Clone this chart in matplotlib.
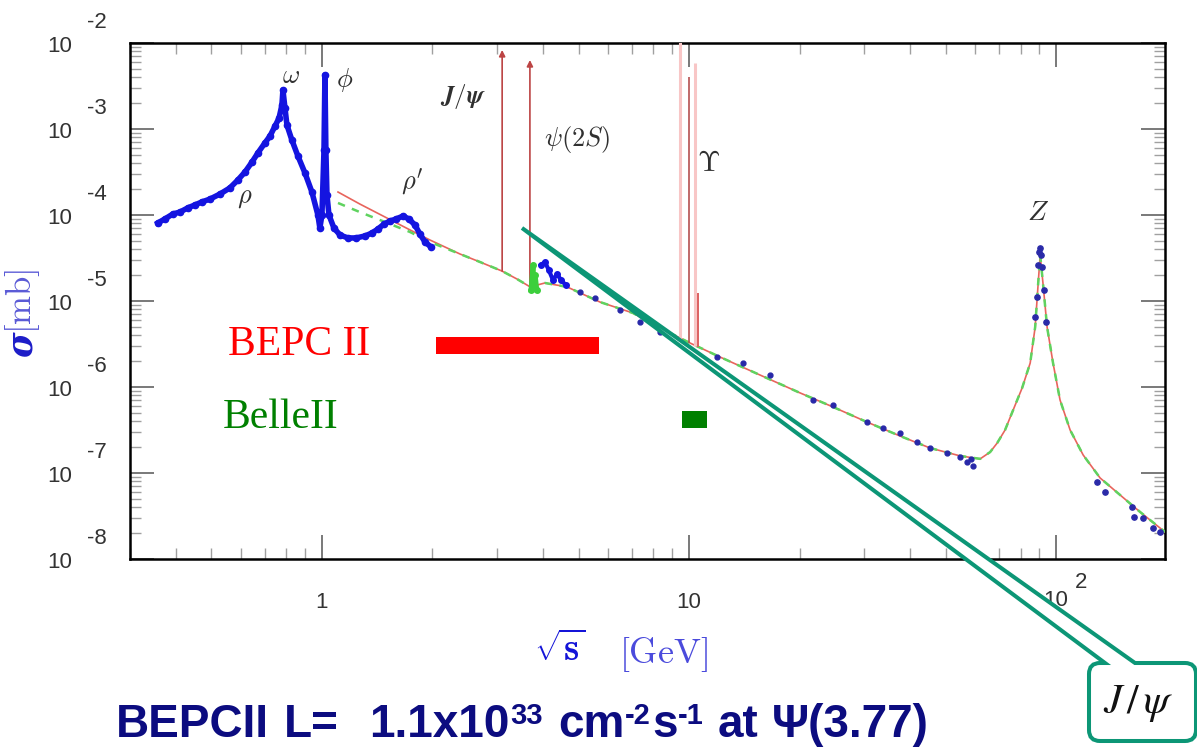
import matplotlib
matplotlib.use("Agg")
import matplotlib.pyplot as plt
import matplotlib.transforms as mtransforms
from matplotlib import font_manager as fm
from matplotlib.path import Path
from matplotlib.patches import PathPatch
from matplotlib.ticker import LogLocator, NullFormatter

W, H = 1197, 747

# measured R-region data, sqrt(s) in GeV, sigma in mb (rho / omega / phi / rho')
low_E = [0.357, 0.373, 0.393, 0.410, 0.431, 0.451, 0.471, 0.495, 0.527, 0.561,
         0.590, 0.617, 0.645, 0.669, 0.699, 0.722, 0.745, 0.764, 0.778, 0.783,
         0.793, 0.803, 0.828, 0.860, 0.899, 0.939, 0.975, 0.987, 1.000, 1.013,
         1.019, 1.025, 1.032, 1.045, 1.078, 1.12, 1.177, 1.238, 1.31, 1.368,
         1.421, 1.476, 1.532, 1.591, 1.663, 1.726, 1.792, 1.849, 1.909, 1.982]
low_sig = [8.07e-5, 8.98e-5, 1.03e-4, 1.08e-4, 1.21e-4, 1.31e-4, 1.42e-4, 1.53e-4, 1.75e-4, 2.06e-4,
           2.55e-4, 3.16e-4, 4.13e-4, 5.26e-4, 6.87e-4, 8.29e-4, 1.08e-3, 1.34e-3, 1.90e-3, 2.84e-3,
           1.75e-3, 1.11e-3, 7.45e-4, 4.85e-4, 3.08e-4, 1.85e-4, 1.0e-4, 7.06e-5, 1.0e-4, 5.70e-4,
           4.25e-3, 5.70e-4, 1.71e-4, 1.0e-4, 7.06e-5, 5.85e-5, 5.41e-5, 5.41e-5, 5.70e-5, 6.18e-5,
           6.87e-5, 7.85e-5, 8.51e-5, 8.98e-5, 9.73e-5, 8.98e-5, 7.65e-5, 6.01e-5, 4.85e-5, 4.25e-5]

# open charm region
charm_E = [3.95, 4.05, 4.15, 4.26, 4.37, 4.48, 4.62]
charm_sig = [2.62e-5, 2.84e-5, 2.29e-5, 1.75e-5, 2.06e-5, 1.75e-5, 1.53e-5]
psi3770_E = [3.71, 3.76, 3.78, 3.81, 3.85]
psi3770_sig = [1.34e-5, 2.62e-5, 1.53e-5, 2.00e-5, 1.34e-5]

# continuum points and Z line shape
cont_E = [5.05, 5.54, 6.49, 7.35, 8.34, 11.9, 14.0, 16.6, 21.8, 24.7,
          30.5, 33.8, 37.6, 41.8, 45.4, 50.5, 54.8, 57.2, 58.7, 59.4]
cont_sig = [1.27e-5, 1.08e-5, 7.85e-6, 5.70e-6, 4.37e-6, 2.23e-6, 1.90e-6, 1.38e-6, 7.06e-7, 6.18e-7,
            3.92e-7, 3.34e-7, 2.92e-7, 2.29e-7, 1.95e-7, 1.71e-7, 1.54e-7, 1.34e-7, 1.46e-7, 1.21e-7]
z_E = [87.7, 88.8, 89.3, 89.9, 90.5, 91.0, 91.6, 92.8, 93.9,
       129, 136, 161, 163, 172, 184, 192]
z_sig = [6.52e-6, 1.11e-5, 2.62e-5, 3.72e-5, 4.13e-5, 3.43e-5, 2.48e-5, 1.34e-5, 5.70e-6,
         7.85e-8, 6.01e-8, 4.03e-8, 3.08e-8, 3.0e-8, 2.29e-8, 2.06e-8]

# fit curves
fit_E = [1.106, 1.269, 1.485, 1.738, 1.969, 2.377, 2.696, 3.094, 3.40, 3.69,
         4.05, 4.65, 5.72, 7.04, 8.34, 10.06, 12.15, 15.6, 20.1, 24.7,
         30.5, 37.6, 45.4, 54.8, 62.1, 66.1, 69.1, 72.6, 76.4, 80.8,
         85.0, 87.7, 89.3, 90.5, 92.2, 94.5, 98.1, 102.5, 109.2, 118.5,
         131.8, 149.4, 169.4, 198]
fit_sig = [1.85e-4, 1.34e-4, 9.48e-5, 6.70e-5, 5.12e-5, 3.52e-5, 2.84e-5, 2.23e-5, 1.80e-5, 1.46e-5,
           1.62e-5, 1.46e-5, 9.73e-6, 7.24e-6, 4.85e-6, 3.25e-6, 2.23e-6, 1.38e-6, 8.51e-7, 5.85e-7,
           3.92e-7, 2.69e-7, 1.95e-7, 1.58e-7, 1.46e-7, 1.75e-7, 2.23e-7, 3.16e-7, 5.41e-7, 9.73e-7,
           1.90e-6, 4.99e-6, 1.53e-5, 3.43e-5, 1.53e-5, 4.99e-6, 1.90e-6, 7.06e-7, 3.16e-7, 1.62e-7,
           8.75e-8, 5.55e-8, 3.52e-8, 2.06e-8]
pqcd_low_sig = [1.38e-4, 1.08e-4, 8.29e-5, 6.34e-5, 4.85e-5]
pqcd_E = fit_E
pqcd_sig = pqcd_low_sig + fit_sig[5:]

# narrow resonances drawn as spikes
res_E = [3.097, 3.686]
res_base = [2.23e-5, 1.46e-5]
res_top = [8.30e-3, 6.34e-3]
ups_E = [9.46, 10.02, 10.355, 10.58]
ups_base = [3.52e-6, 3.25e-6, 3.0e-6, 2.92e-6]
ups_top = [1.2e-2, 4.03e-3, 5.85e-3, 1.24e-5]

# collider energy coverage
bepc_E = [2.05, 5.70]
belle_E = [9.57, 11.2]

y_powers = [-8, -7, -6, -5, -4, -3, -2]
x_ticks = [1, 10]

# luminosity line as chained runs: (text, font size, raise px, gap before px)
lumi_runs = [("BEPCII", 33, 0, 0), ("L=", 33, 0, 15), ("1.1x10", 33, 0, 30), ("33", 21, 13, 1),
             ("cm", 33, 0, 15), ("-2", 21, 13, 1), ("s", 33, 0, 1), ("-1", 21, 13, 1),
             ("at", 33, 0, 14), ("Ψ(3.77)", 33, 0, 13)]


def find_family(*names):
    for name in names:
        try:
            fm.findfont(fm.FontProperties(family=name), fallback_to_default=False)
            return name
        except ValueError:
            continue
    return "DejaVu Sans"


sans = find_family("Liberation Sans", "DejaVu Sans")
serif = find_family("Liberation Serif", "DejaVu Serif")


def fpx(x, y):
    return x / W, 1 - y / H


fig = plt.figure(figsize=(W / 100, H / 100), dpi=100, facecolor="white")
ax = fig.add_axes([130 / W, 1 - 559 / H, 1035 / W, 516 / H])
ax.set_xscale("log")
ax.set_yscale("log")
ax.set_xlim(0.30, 198)
ax.set_ylim(1e-8, 1e-2)

for axis in (ax.xaxis, ax.yaxis):
    axis.set_major_locator(LogLocator(base=10, numticks=20))
    axis.set_minor_locator(LogLocator(base=10, subs=range(2, 10), numticks=100))
    axis.set_major_formatter(NullFormatter())
    axis.set_minor_formatter(NullFormatter())
ax.tick_params(which="both", direction="in", top=True, right=True)
ax.tick_params(which="major", length=17, width=1.1, color="#555555")
ax.tick_params(which="minor", length=8, width=1.0, color="#a0a0a0")
for s in ax.spines.values():
    s.set_linewidth(1.8)

# curves
ax.plot(fit_E, fit_sig, color="#e8645c", lw=1.2, zorder=3)
ax.plot(pqcd_E, pqcd_sig, color="#5fd35f", lw=1.8, ls=(0, (3, 3)), zorder=3)

# resonance spikes
for E, lo, hi in zip(res_E, res_base, res_top):
    ax.annotate("", xy=(E, hi), xytext=(E, lo),
                arrowprops=dict(arrowstyle="-|>", color="#bc4444", lw=1.2,
                                mutation_scale=9, shrinkA=0, shrinkB=0), zorder=3)
ax.vlines(ups_E, ups_base, ups_top,
          colors=["#f8c6c6", "#b55050", "#f8c6c6", "#dc6060"],
          linewidths=[2.2, 1.2, 2.2, 1.4], zorder=3)

# data
ax.plot(low_E, low_sig, color="#1414e0", lw=4, marker="o", ms=4.5, zorder=4)
ax.plot(charm_E, charm_sig, color="#1414e0", lw=3, marker="o", ms=4, zorder=4)
ax.plot(psi3770_E, psi3770_sig, color="#3ccf3c", lw=3.5, marker="o", ms=4, zorder=4)
ax.plot(cont_E, cont_sig, ls="none", marker="o", ms=3.5, color="#2828a8", zorder=4)
ax.plot(z_E, z_sig, ls="none", marker="o", ms=3.8, color="#2a2aa8", zorder=4)

# energy coverage bars
ax.fill_between(bepc_E, 2.42e-6, 3.81e-6, color="#ff0000", lw=0, zorder=5)
ax.fill_between(belle_E, 3.33e-7, 5.26e-7, color="#008000", lw=0, zorder=5)

# tick labels in ROOT style
ytrans = mtransforms.blended_transform_factory(fig.transFigure, ax.transData)
for p in y_powers:
    ax.text(60 / W, 10.0 ** p, "10", transform=mtransforms.offset_copy(ytrans, fig=fig, y=-4, units="dots"),
            ha="center", va="center", fontsize=16, family=sans, color="#333333")
    ax.text(87 / W, 10.0 ** p, str(p), transform=mtransforms.offset_copy(ytrans, fig=fig, y=20, units="dots"),
            ha="left", va="center", fontsize=16, family=sans, color="#333333")
xtrans = mtransforms.blended_transform_factory(ax.transData, fig.transFigure)
for t in x_ticks:
    ax.text(t, 1 - 603 / H, str(t), transform=xtrans, ha="center", va="center",
            fontsize=16, family=sans, color="#333333")
ax.text(100, 1 - 601 / H, "10", transform=xtrans, ha="center", va="center",
        fontsize=16, family=sans, color="#333333")
ax.text(100, 1 - 601 / H, "2", transform=mtransforms.offset_copy(xtrans, fig=fig, x=19, y=18, units="dots"),
        ha="left", va="center", fontsize=16, family=sans, color="#333333")

# peak names
lab = dict(math_fontfamily="cm", color="#303030", ha="center", va="center")
ax.text(0.823, 4.13e-3, r"$\omega$", fontsize=19, **lab)
ax.text(1.155, 3.7e-3, r"$\phi$", fontsize=19, **lab)
ax.text(0.617, 1.62e-4, r"$\rho$", fontsize=19, **lab)
ax.text(1.76, 2.42e-4, r"$\rho'$", fontsize=19, **lab)
ax.text(2.42, 2.36e-3, r"$\boldsymbol{J/\psi}$", fontsize=18, **lab)
ax.text(4.95, 7.45e-4, r"$\psi(2S)$", fontsize=19, **lab)
ax.text(11.27, 4.03e-4, r"$\mathbf{\Upsilon}$", fontsize=21, **lab)
ax.text(89.3, 1.08e-4, r"$Z$", fontsize=20, **lab)

fig.text(*fpx(228, 345), "BEPC II", ha="left", va="center", fontsize=30, family=serif, color="#ff0000")
fig.text(*fpx(223, 418), "BelleII", ha="left", va="center", fontsize=30, family=serif, color="#008000")

# axis titles
fig.text(*fpx(22, 344), "σ", rotation=90, ha="center", va="center", fontsize=25,
         family="DejaVu Serif", fontweight="bold", fontstyle="italic", color="#1c1cc8")
fig.text(*fpx(22, 301), r"$[\mathrm{mb}]$", math_fontfamily="cm", rotation=90, ha="center", va="center",
         fontsize=25, color="#5a5ad6")
fig.text(*fpx(560, 650), r"$\sqrt{\mathbf{s}}$", math_fontfamily="cm", ha="center", va="center",
         fontsize=28, color="#1414d8")
fig.text(*fpx(664, 655), r"$[\mathrm{GeV}]$", math_fontfamily="cm", ha="center", va="center",
         fontsize=26, color="#4b4bdc")

# luminosity line, each run placed right after the previous one
renderer = fig.canvas.get_renderer()
x = 116
for txt, size, lift, gap in lumi_runs:
    x += gap
    run = fig.text(*fpx(x, 737 - lift), txt, ha="left", va="baseline", fontsize=size, family=sans,
                   fontweight="bold", color="#0c0c80")
    x = run.get_window_extent(renderer).x1

# callout pointing at the J/psi
r = 11
L, R, T, B = 1089, 1196, 663, 741
verts = [(1105, T), (522, 228), (1135, T), (R - r, T), (R, T), (R, T + r), (R, B - r), (R, B), (R - r, B),
         (L + r, B), (L, B), (L, B - r), (L, T + r), (L, T), (L + r, T), (1105, T)]
codes = [Path.MOVETO, Path.LINETO, Path.LINETO, Path.LINETO, Path.CURVE3, Path.CURVE3, Path.LINETO,
         Path.CURVE3, Path.CURVE3, Path.LINETO, Path.CURVE3, Path.CURVE3, Path.LINETO, Path.CURVE3,
         Path.CURVE3, Path.CLOSEPOLY]
px_to_fig = mtransforms.Affine2D().scale(1 / W, -1 / H).translate(0, 1) + fig.transFigure
callout = PathPatch(Path(verts, codes), facecolor="white", edgecolor="#0c9676", lw=2.9,
                    transform=px_to_fig, zorder=10, joinstyle="miter")
fig.add_artist(callout)
fig.text(*fpx(1138, 703), r"$J\,/\,\psi$", math_fontfamily="stix", ha="center", va="center",
         fontsize=30, color="#111111", zorder=11)

fig.savefig("out.png", dpi=100, facecolor="white")
